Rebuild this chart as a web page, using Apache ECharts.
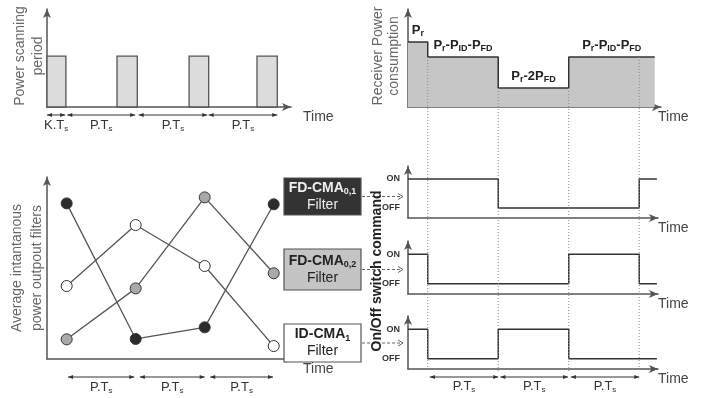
<!DOCTYPE html>
<html>
<head>
<meta charset="utf-8">
<script src="https://cdn.jsdelivr.net/npm/echarts@6/dist/echarts.min.js"></script>
<style>
  html, body { margin: 0; padding: 0; background: #fff; }
  #chart { width: 716px; height: 398px; }
</style>
</head>
<body>
<div id="chart"></div>
<script>
// time unit everywhere = one scanning period P.Ts
var scanBars = [[0, 0.27], [1.0, 1.29], [2.03, 2.31], [3.0, 3.29]];
var scanLevel = 0.52;
var scanSpans = [[0, 0.26], [0.29, 1.26], [1.31, 2.29], [2.31, 3.29]];
var scanSpanNames = ['K', 'P', 'P', 'P'];

var powerSteps = [[0, 0.663], [0.28, 0.51], [1.28, 0.194], [2.28, 0.51], [3.5, 0.51]];
var powerNames = ['P{s|r}', 'P{s|r}-P{s|ID}-P{s|FD}', 'P{s|r}-2P{s|FD}', 'P{s|r}-P{s|ID}-P{s|FD}'];
var switchTimes = [0.28, 1.28, 2.28, 3.28];

var filterSteps = [0, 1, 2, 3];
var fdCma01 = [85.5, 11.0, 17.4, 85.0];
var fdCma02 = [10.8, 38.8, 88.8, 47.1];
var idCma1 = [40.1, 73.6, 51.1, 7.1];
var filterSpans = [[0.02, 0.98], [1.06, 2.0], [2.08, 2.99]];
var filterNames = ['FD-CMA{bs|0,1}', 'FD-CMA{bs|0,2}', 'ID-CMA{bs|1}'];

var cmdFd01 = [[0, 1], [1.28, 0], [3.28, 1], [3.53, 1]];
var cmdFd02 = [[0, 1], [0.28, 0], [2.28, 1], [3.28, 0], [3.53, 0]];
var cmdId1 = [[0, 1], [0.28, 0], [1.28, 1], [2.28, 0], [3.53, 0]];
var cmdSpans = [[0.31, 1.28], [1.31, 2.27], [2.31, 3.28]];

var FONT = 'Liberation Sans, Arial, sans-serif';

var chart = echarts.init(document.getElementById('chart'));

function axLine() {
  return { show: true, onZero: false, symbol: ['none', 'arrow'], symbolSize: [6, 9],
           lineStyle: { color: '#555', width: 1.5 } };
}
function xAx(grid, min, max, gap) {
  return {
    type: 'value', gridIndex: grid, min: min, max: max,
    axisLine: axLine(), axisTick: { show: false }, axisLabel: { show: false }, splitLine: { show: false },
    name: 'Time', nameLocation: 'end', nameGap: gap,
    nameTextStyle: { fontSize: 14, color: '#444', fontFamily: FONT, verticalAlign: 'top', padding: [3, 0, 0, 0] }
  };
}
function yAx(grid, min, max, onoff) {
  var ax = {
    type: 'value', gridIndex: grid, min: min, max: max,
    axisLine: axLine(), axisTick: { show: false }, axisLabel: { show: false }, splitLine: { show: false }
  };
  if (onoff) {
    ax.axisLabel = {
      show: true, customValues: [0, 1], margin: 8,
      fontSize: 9, fontWeight: 'bold', color: '#333', fontFamily: FONT,
      formatter: function (v) { return v > 0.5 ? 'ON' : 'OFF'; }
    };
  }
  return ax;
}
function zip(xs, ys) { return xs.map(function (x, i) { return [x, ys[i]]; }); }
function stepLine(x, y, data) {
  return { type: 'line', xAxisIndex: x, yAxisIndex: y, data: data, step: 'end', symbol: 'none',
           lineStyle: { color: '#333', width: 1.5 } };
}
function filterLine(ys, fill) {
  return { type: 'line', xAxisIndex: 2, yAxisIndex: 2, data: zip(filterSteps, ys),
           symbol: 'circle', symbolSize: 11,
           itemStyle: { color: fill, borderColor: '#333', borderWidth: 1 },
           lineStyle: { color: '#555', width: 1.3 } };
}

chart.setOption({
  animation: false,
  textStyle: { fontFamily: FONT },
  grid: [
    { left: 47, top: 9, width: 244, height: 98 },
    { left: 408, top: 9, width: 253, height: 98 },
    { left: 47, top: 177, width: 247, height: 182 },
    { left: 408, top: 166, width: 250, height: 52 },
    { left: 408, top: 241, width: 250, height: 53 },
    { left: 408, top: 316, width: 250, height: 53 }
  ],
  xAxis: [
    xAx(0, 0, 3.486, 12),
    xAx(1, 0, 3.589, -3),
    xAx(2, -0.285, 3.294, 9),
    xAx(3, 0, 3.546, 0),
    xAx(4, 0, 3.546, 0),
    xAx(5, 0, 3.546, 0)
  ],
  yAxis: [
    yAx(0, 0, 1),
    yAx(1, 0, 1),
    yAx(2, 0, 100),
    yAx(3, -0.35, 1.45, true),
    yAx(4, -0.35, 1.45, true),
    yAx(5, -0.35, 1.45, true)
  ],
  series: [
    {
      type: 'custom', xAxisIndex: 0, yAxisIndex: 0,
      data: scanBars.map(function (b) { return [b[0], b[1], scanLevel]; }),
      encode: { x: [0, 1], y: 2 },
      renderItem: function (params, api) {
        var a = api.coord([api.value(0), api.value(2)]);
        var b = api.coord([api.value(1), 0]);
        return { type: 'rect', shape: { x: a[0], y: a[1], width: b[0] - a[0], height: b[1] - a[1] },
                 style: { fill: '#dcdcdc', stroke: '#555', lineWidth: 1.3 } };
      }
    },
    {
      type: 'line', xAxisIndex: 1, yAxisIndex: 1, data: powerSteps, step: 'end', symbol: 'none',
      lineStyle: { color: '#333', width: 1.5 },
      areaStyle: { color: '#c6c6c6', opacity: 1 }
    },
    filterLine(fdCma01, '#2b2b2b'),
    filterLine(idCma1, '#ffffff'),
    filterLine(fdCma02, '#a9a9a9'),
    stepLine(3, 3, cmdFd01),
    stepLine(4, 4, cmdFd02),
    stepLine(5, 5, cmdId1)
  ]
});

function px(grid, x, y) { return chart.convertToPixel({ gridIndex: grid }, [x, y]); }

var g = [];
function subRich(size, weight) {
  return { fontSize: size, fontWeight: weight, fontFamily: FONT, lineHeight: size, verticalAlign: 'bottom' };
}
function spanArrow(x1, x2, y) {
  g.push({ type: 'line', z: 50, shape: { x1: x1, y1: y, x2: x2, y2: y }, style: { stroke: '#333', lineWidth: 1 } });
  g.push({ type: 'polygon', z: 50, shape: { points: [[x1, y], [x1 + 5, y - 2], [x1 + 5, y + 2]] }, style: { fill: '#333' } });
  g.push({ type: 'polygon', z: 50, shape: { points: [[x2, y], [x2 - 5, y - 2], [x2 - 5, y + 2]] }, style: { fill: '#333' } });
}
function spanRow(grid, yMin, spans, names, dy, ly) {
  spans.forEach(function (s, i) {
    var a = px(grid, s[0], yMin), b = px(grid, s[1], yMin);
    spanArrow(a[0], b[0], a[1] + dy);
    g.push({ type: 'text', z: 50, x: (a[0] + b[0]) / 2, y: a[1] + ly, style: {
      text: names[i] + '.T{s|s}', fill: '#333', fontSize: 13, fontFamily: FONT, lineHeight: 15,
      align: 'center', verticalAlign: 'middle', rich: { s: subRich(8, 'normal') } } });
  });
}
spanRow(0, 0, scanSpans, scanSpanNames, 8, 18);
spanRow(2, 0, filterSpans, ['P', 'P', 'P'], 18, 28);
spanRow(5, -0.35, cmdSpans, ['P', 'P', 'P'], 8, 17);

// dotted switching instants
switchTimes.forEach(function (t) {
  var before = 0, after = 0;
  powerSteps.forEach(function (p) { if (p[0] < t) before = p[1]; if (p[0] <= t) after = p[1]; });
  var top = px(1, t, Math.min(before, after));
  g.push({ type: 'line', z: 40, shape: { x1: top[0], y1: top[1], x2: top[0], y2: 372 },
           style: { stroke: '#888', lineWidth: 1, lineDash: [1, 2] } });
});

// power level labels
for (var i = 0; i < powerNames.length; i++) {
  var a = px(1, powerSteps[i][0], powerSteps[i][1]);
  var b = px(1, powerSteps[i + 1][0], powerSteps[i][1]);
  g.push({ type: 'text', z: 50, x: (a[0] + b[0]) / 2, y: a[1] - 4, style: {
    text: powerNames[i], fill: '#222', fontSize: 13, fontWeight: 'bold', fontFamily: FONT, lineHeight: 15,
    align: 'center', verticalAlign: 'bottom', rich: { s: subRich(9, 'bold') } } });
}

// filter boxes with dashed arrows to the switch commands
var boxFill = ['#333333', '#c4c4c4', '#ffffff'];
var boxText = ['#eeeeee', '#222222', '#222222'];
var boxMid = [196.5, 269.5, 343];
var boxH = [37, 41, 38];
filterNames.forEach(function (n, i) {
  g.push({ type: 'rect', z: 30, shape: { x: 284, y: boxMid[i] - boxH[i] / 2, width: 77, height: boxH[i] },
           style: { fill: boxFill[i], stroke: '#555', lineWidth: 1.2 } });
  g.push({ type: 'text', z: 31, x: 322.5, y: boxMid[i], style: {
    text: '{b|' + n.replace('{bs|', '}{bs|') + '\n{n|Filter}', fill: boxText[i],
    align: 'center', verticalAlign: 'middle',
    rich: {
      b: { fontSize: 14, fontWeight: 'bold', fontFamily: FONT, lineHeight: 17 },
      bs: subRich(9, 'bold'),
      n: { fontSize: 14, fontFamily: FONT, lineHeight: 17 }
    } } });
  var y = boxMid[i];
  g.push({ type: 'line', z: 30, shape: { x1: 362, y1: y, x2: 403, y2: y },
           style: { stroke: '#666', lineWidth: 1, lineDash: [3, 2] } });
  g.push({ type: 'polyline', z: 30, shape: { points: [[398, y - 3], [403, y], [398, y + 3]] },
           style: { stroke: '#666', lineWidth: 1 } });
});

// rotated axis titles
function vText(x, y, text, color, weight, lh) {
  g.push({ type: 'text', z: 35, x: x, y: y, rotation: Math.PI / 2, style: {
    text: text, fill: color, fontSize: 14, fontWeight: weight, fontFamily: FONT, lineHeight: lh,
    align: 'center', verticalAlign: 'middle' } });
}
vText(29, 56, 'Power scanning\nperiod', '#666', 'normal', 18);
vText(386, 56, 'Receiver Power\nconsumption', '#666', 'normal', 16);
vText(27, 268, 'Average intantanous\npower outpout filters', '#666', 'normal', 20);
vText(377, 271, 'On/Off switch command', '#222', 'bold', 16);

chart.setOption({ graphic: g });
</script>
</body>
</html>
